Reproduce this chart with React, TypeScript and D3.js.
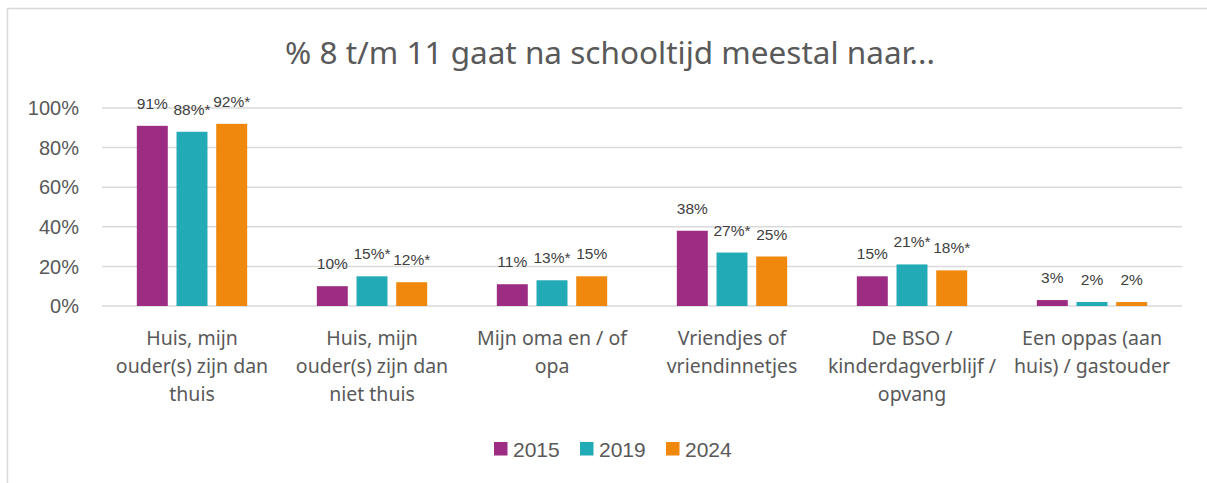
import { useEffect, useRef } from 'react';
import * as d3 from 'd3';

const categories = [
  ['Huis, mijn', 'ouder(s) zijn dan', 'thuis'],
  ['Huis, mijn', 'ouder(s) zijn dan', 'niet thuis'],
  ['Mijn oma en / of', 'opa'],
  ['Vriendjes of', 'vriendinnetjes'],
  ['De BSO /', 'kinderdagverblijf /', 'opvang'],
  ['Een oppas (aan', 'huis) / gastouder'],
];
const series = ['2015', '2019', '2024'];
const colors = ['#9c2d82', '#22abb7', '#ef880c'];
const values2015 = [91, 10, 11, 38, 15, 3];
const values2019 = [88, 15, 13, 27, 21, 2];
const values2024 = [92, 12, 15, 25, 18, 2];
// significance marker (*) per value
const sig2015 = [false, false, false, false, false, false];
const sig2019 = [true, true, true, true, true, false];
const sig2024 = [true, true, false, false, true, false];
const yTicks = [0, 20, 40, 60, 80, 100];

const W = 1207;
const H = 483;

export default function App() {
  const svgRef = useRef<SVGSVGElement>(null);

  useEffect(() => {
    if (!svgRef.current) return;
    const svg = d3.select(svgRef.current);
    svg.selectAll('*').remove();

    const left = 102, right = 1182, top = 108, bottom = 306;
    const allValues = [values2015, values2019, values2024];
    const allSig = [sig2015, sig2019, sig2024];
    const keys = categories.map((_, i) => String(i));

    const x0 = d3.scaleBand().domain(keys).range([left, right])
      .paddingInner(0.387).paddingOuter(0.1935);
    const x1 = d3.scaleBand().domain(series).range([0, x0.bandwidth()])
      .paddingInner(0.22).paddingOuter(0);
    const y = d3.scaleLinear().domain([0, 100]).range([bottom, top]);

    // chart border (left + top)
    svg.append('path')
      .attr('d', `M7.5,${H} V8.5 H${W}`)
      .attr('fill', 'none')
      .attr('stroke', '#d9d9d9')
      .attr('stroke-width', 1.5);

    // title
    svg.append('text')
      .attr('x', 610)
      .attr('y', 64)
      .attr('text-anchor', 'middle')
      .attr('font-family', '"Noto Sans", sans-serif')
      .attr('font-size', 31.5)
      .attr('fill', '#595959')
      .text('% 8 t/m 11 gaat na schooltijd meestal naar...');

    // gridlines
    yTicks.forEach(t => {
      svg.append('line')
        .attr('x1', left).attr('x2', right)
        .attr('y1', y(t)).attr('y2', y(t))
        .attr('stroke', '#d9d9d9')
        .attr('stroke-width', 1.5);
      svg.append('text')
        .attr('x', 79)
        .attr('y', y(t))
        .attr('dy', '0.36em')
        .attr('text-anchor', 'end')
        .attr('font-family', '"Liberation Sans", Arial, sans-serif')
        .attr('font-size', 20)
        .attr('fill', '#595959')
        .text(`${t}%`);
    });

    // bars + labels
    keys.forEach((k, ci) => {
      const g = svg.append('g').attr('transform', `translate(${x0(k)},0)`);
      series.forEach((s, si) => {
        const v = allValues[si][ci];
        const bx = x1(s)!;
        g.append('rect')
          .attr('x', bx)
          .attr('y', y(v))
          .attr('width', x1.bandwidth())
          .attr('height', bottom - y(v))
          .attr('fill', colors[si]);
        g.append('text')
          .attr('x', bx + x1.bandwidth() / 2)
          .attr('y', y(v) - 17)
          .attr('text-anchor', 'middle')
          .attr('font-family', '"Liberation Sans", Arial, sans-serif')
          .attr('font-size', 15.5)
          .attr('fill', '#404040')
          .text(`${v}%${allSig[si][ci] ? '*' : ''}`);
      });

      // category label
      const cx = x0(k)! + x0.bandwidth() / 2;
      categories[ci].forEach((line, li) => {
        svg.append('text')
          .attr('x', cx)
          .attr('y', 345 + li * 28)
          .attr('text-anchor', 'middle')
          .attr('font-family', '"Noto Sans", sans-serif')
          .attr('font-size', 19.5)
          .attr('fill', '#595959')
          .text(line);
      });
    });

    // legend
    const legendX = [494, 580, 666];
    series.forEach((s, si) => {
      svg.append('rect')
        .attr('x', legendX[si])
        .attr('y', 442)
        .attr('width', 13.5)
        .attr('height', 13.5)
        .attr('fill', colors[si]);
      svg.append('text')
        .attr('x', legendX[si] + 19)
        .attr('y', 449)
        .attr('dy', '0.36em')
        .attr('font-family', '"Liberation Sans", Arial, sans-serif')
        .attr('font-size', 21)
        .attr('fill', '#595959')
        .text(s);
    });
  }, []);

  return (
    <div style={{ position: 'absolute', left: 0, top: 0, width: W, height: H, background: '#fff' }}>
      <svg ref={svgRef} width={W} height={H} style={{ display: 'block' }} />
    </div>
  );
}
